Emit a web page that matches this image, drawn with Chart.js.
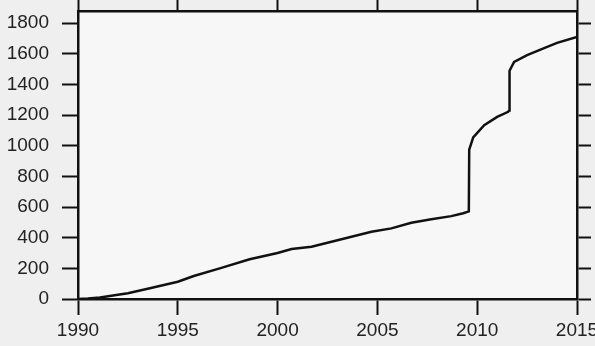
<!DOCTYPE html>
<html>
<head>
<meta charset="utf-8">
<script src="https://cdn.jsdelivr.net/npm/chart.js@4"></script>
<style>
  html, body { margin: 0; padding: 0; overflow: hidden; background: #efefef; }
</style>
</head>
<body>
<canvas id="myChart" width="598" height="346"></canvas>
<script>
'use strict';

// cumulative count
const years = [1990, 1990.5, 1991.1, 1992, 1992.5, 1993.6, 1995, 1995.8, 1997.1, 1998.6,
  2000, 2000.7, 2001.7, 2002.7, 2003.7, 2004.7, 2005.7, 2006.7, 2007.7, 2008.7,
  2009.3, 2009.58, 2009.6, 2009.8, 2010.35, 2011, 2011.55, 2011.6, 2011.62, 2011.85,
  2012.5, 2013.2, 2014, 2015];
const counts = [0, 3, 10, 28, 38, 70, 113, 150, 200, 259,
  300, 326, 341, 374, 406, 439, 461, 498, 520, 541,
  560, 572, 975, 1055, 1135, 1189, 1222, 1230, 1490, 1548,
  1592, 1629, 1672, 1711];

const xTicks = [1990, 1995, 2000, 2005, 2010, 2015];
const yTicks = [0, 200, 400, 600, 800, 1000, 1200, 1400, 1600, 1800];

const ctx = document.getElementById('myChart');
const font = { family: '"Liberation Sans", Arial, sans-serif', size: 19 };

function getPoints() {
  let pts = [];
  for (let i = 0; i < years.length; i++) {
    pts.push({ x: years[i], y: counts[i] });
  }
  return pts;
}

const bgPlugin = {
  id: 'bg',
  beforeDraw(chart) {
    const c = chart.ctx;
    const a = chart.chartArea;
    c.save();
    c.fillStyle = '#efefef';
    c.fillRect(0, 0, chart.width, chart.height);
    c.fillStyle = '#f7f7f7';
    c.fillRect(a.left, a.top, a.right - a.left, a.bottom - a.top);
    c.restore();
  }
};

// size = fixed height (x axes) or width (y axes) so the box lands where it is in the scan
function axis(pos, tickLen, showLabels, isX, size) {
  return {
    type: 'linear',
    axis: isX ? 'x' : 'y',
    position: pos,
    min: isX ? 1990 : 0,
    max: isX ? 2015 : 1880,
    afterBuildTicks: function (scale) {
      scale.ticks = (isX ? xTicks : yTicks).map(v => ({ value: v }));
    },
    afterFit: function (scale) {
      if (isX) scale.height = size; else scale.width = size;
      scale.paddingLeft = 0;
      scale.paddingRight = 0;
      scale.paddingTop = 0;
      scale.paddingBottom = 0;
    },
    ticks: {
      display: showLabels,
      font: font,
      color: '#222',
      padding: isX ? 4 : 13,
      maxRotation: 0,
      autoSkip: false,
      callback: v => String(v)
    },
    grid: {
      drawOnChartArea: false,
      drawTicks: true,
      tickLength: tickLen,
      tickColor: '#111',
      tickWidth: 2
    },
    border: { display: true, color: '#111', width: 2.5 }
  };
}

new Chart(ctx, {
  type: 'line',
  data: {
    datasets: [{
      data: getPoints(),
      borderColor: '#111',
      borderWidth: 2.5,
      pointRadius: 0,
      tension: 0,
      fill: false
    }]
  },
  options: {
    responsive: false,
    animation: false,
    layout: { padding: 0 },
    plugins: { legend: { display: false }, tooltip: { enabled: false } },
    scales: {
      x: axis('bottom', 16, true, true, 47),
      x2: axis('top', 11, false, true, 11),
      y: axis('left', 16, true, false, 78),
      y2: axis('right', 14, false, false, 21)
    }
  },
  plugins: [bgPlugin]
});
</script>
</body>
</html>
